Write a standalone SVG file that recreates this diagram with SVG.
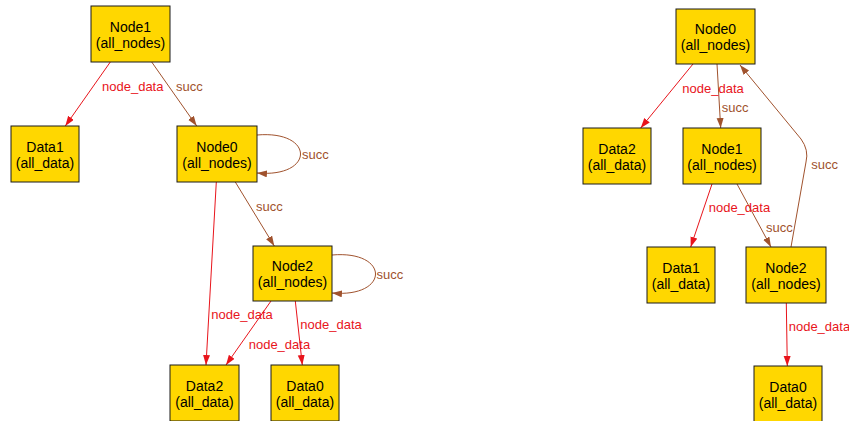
<svg xmlns="http://www.w3.org/2000/svg" width="849" height="421" viewBox="0 0 849 421">
  <style>
    .box { fill: #ffd700; stroke: #1a1a1a; stroke-width: 1; }
    .nt { font-family: "Liberation Sans", Arial, sans-serif; font-size: 14px; fill: #000; text-anchor: middle; }
    .lbl { font-family: "Liberation Sans", Arial, sans-serif; font-size: 13px; }
    .red { stroke: #e8141b; fill: none; stroke-width: 1; }
    .brn { stroke: #a0522d; fill: none; stroke-width: 1; }
    .tred { fill: #e8141b; }
    .tbrn { fill: #a0522d; }
  </style>
  <defs>
    <marker id="arrRed" markerUnits="userSpaceOnUse" markerWidth="10" markerHeight="8" refX="10" refY="3.5" orient="auto">
      <path d="M0,0 L10,3.5 L0,7 z" fill="#e8141b"/>
    </marker>
    <marker id="arrBrn" markerUnits="userSpaceOnUse" markerWidth="10" markerHeight="8" refX="10" refY="3.5" orient="auto">
      <path d="M0,0 L10,3.5 L0,7 z" fill="#a0522d"/>
    </marker>
  </defs>

  <g id="connectors">
    <!-- left graph -->
    <path class="red" d="M110.3,62 L65.3,126" marker-end="url(#arrRed)"/>
    <path class="brn" d="M151.7,62 L196.7,126" marker-end="url(#arrBrn)"/>
    <path class="brn" d="M257,135 C315,130 315,178 257,173" marker-end="url(#arrBrn)"/>
    <path class="brn" d="M235.3,182 L274.3,246" marker-end="url(#arrBrn)"/>
    <path class="red" d="M216.3,182 L206,365" marker-end="url(#arrRed)"/>
    <path class="red" d="M271,301 L226,365" marker-end="url(#arrRed)"/>
    <path class="red" d="M295.3,301 L302.3,365" marker-end="url(#arrRed)"/>
    <path class="brn" d="M332,255 C390,250 390,298 332,293" marker-end="url(#arrBrn)"/>

    <text class="lbl tred" x="102" y="91">node_data</text>
    <text class="lbl tbrn" x="176" y="91">succ</text>
    <text class="lbl tbrn" x="302" y="158.5">succ</text>
    <text class="lbl tbrn" x="256" y="210.5">succ</text>
    <text class="lbl tbrn" x="376.5" y="279.3">succ</text>
    <text class="lbl tred" x="211.3" y="319">node_data</text>
    <text class="lbl tred" x="248.7" y="349.3">node_data</text>
    <text class="lbl tred" x="300.3" y="329.3">node_data</text>

    <!-- right graph -->
    <path class="red" d="M693,64 L640.7,128" marker-end="url(#arrRed)"/>
    <path class="brn" d="M717,64 L720.7,128" marker-end="url(#arrBrn)"/>
    <path class="brn" d="M791,247 L806,162 Q809,150 801,139 L740,65" marker-end="url(#arrBrn)"/>
    <path class="red" d="M712,184 L690.7,247" marker-end="url(#arrRed)"/>
    <path class="brn" d="M737,184 L771,247" marker-end="url(#arrBrn)"/>
    <path class="red" d="M786.3,303 L787.3,366" marker-end="url(#arrRed)"/>

    <text class="lbl tred" x="682.3" y="92.7">node_data</text>
    <text class="lbl tbrn" x="721.7" y="112">succ</text>
    <text class="lbl tbrn" x="811.3" y="169.3">succ</text>
    <text class="lbl tred" x="708.7" y="211.7">node_data</text>
    <text class="lbl tbrn" x="766" y="231.7">succ</text>
    <text class="lbl tred" x="788.7" y="330.7">node_data</text>
  </g>

  <!-- left graph nodes -->
  <g id="L-Node1">
    <rect class="box" x="91" y="6" width="79" height="56"/>
    <text class="nt" x="130.5" y="31.8">Node1</text>
    <text class="nt" x="130.5" y="47.5">(all_nodes)</text>
  </g>
  <g id="L-Data1">
    <rect class="box" x="11" y="126" width="68" height="56"/>
    <text class="nt" x="45" y="151.8">Data1</text>
    <text class="nt" x="45" y="167.5">(all_data)</text>
  </g>
  <g id="L-Node0">
    <rect class="box" x="177" y="126" width="80" height="56"/>
    <text class="nt" x="217" y="151.8">Node0</text>
    <text class="nt" x="217" y="167.5">(all_nodes)</text>
  </g>
  <g id="L-Node2">
    <rect class="box" x="253" y="246" width="79" height="55"/>
    <text class="nt" x="292.5" y="271.3">Node2</text>
    <text class="nt" x="292.5" y="287">(all_nodes)</text>
  </g>
  <g id="L-Data2">
    <rect class="box" x="170" y="365" width="69" height="56"/>
    <text class="nt" x="204.5" y="390.8">Data2</text>
    <text class="nt" x="204.5" y="406.5">(all_data)</text>
  </g>
  <g id="L-Data0">
    <rect class="box" x="271" y="365" width="68" height="56"/>
    <text class="nt" x="305" y="390.8">Data0</text>
    <text class="nt" x="305" y="406.5">(all_data)</text>
  </g>

  <!-- right graph nodes -->
  <g id="R-Node0">
    <rect class="box" x="676" y="9" width="79" height="55"/>
    <text class="nt" x="715.5" y="34.3">Node0</text>
    <text class="nt" x="715.5" y="50">(all_nodes)</text>
  </g>
  <g id="R-Data2">
    <rect class="box" x="583" y="128" width="68" height="56"/>
    <text class="nt" x="617" y="153.8">Data2</text>
    <text class="nt" x="617" y="169.5">(all_data)</text>
  </g>
  <g id="R-Node1">
    <rect class="box" x="683" y="128" width="78" height="56"/>
    <text class="nt" x="722" y="153.8">Node1</text>
    <text class="nt" x="722" y="169.5">(all_nodes)</text>
  </g>
  <g id="R-Data1">
    <rect class="box" x="647" y="247" width="68" height="56"/>
    <text class="nt" x="681" y="272.8">Data1</text>
    <text class="nt" x="681" y="288.5">(all_data)</text>
  </g>
  <g id="R-Node2">
    <rect class="box" x="746" y="247" width="80" height="56"/>
    <text class="nt" x="786" y="272.8">Node2</text>
    <text class="nt" x="786" y="288.5">(all_nodes)</text>
  </g>
  <g id="R-Data0">
    <rect class="box" x="754" y="366" width="68" height="56"/>
    <text class="nt" x="788" y="391.8">Data0</text>
    <text class="nt" x="788" y="407.5">(all_data)</text>
  </g>
</svg>
